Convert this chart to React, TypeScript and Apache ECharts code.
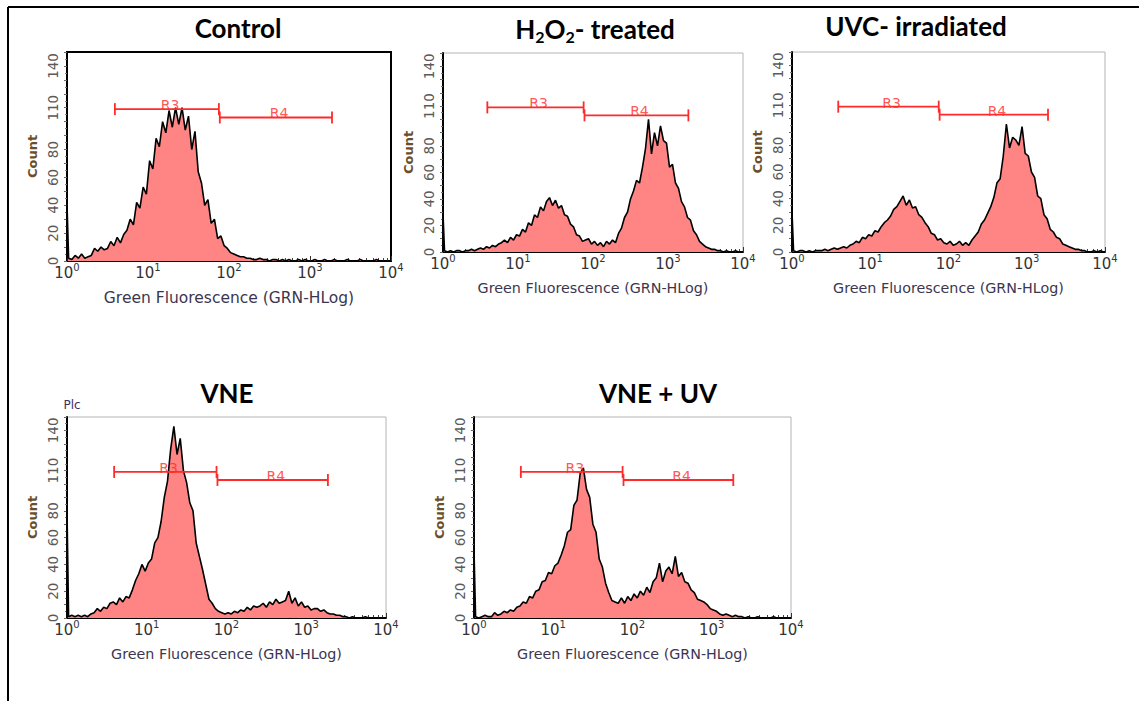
import React, { useEffect, useRef } from "react";
import * as echarts from "echarts";

// ---------- data ----------
// x axis is the log10 channel scale: 0..4 decades (10^0 .. 10^4)
const decadeTicks = [0, 1, 2, 3, 4];
const minorMultipliers = [2, 3, 4, 5, 6, 7, 8, 9];
const yLabelValues = [0, 20, 40, 60, 80, 110, 140];
const binWidth = 0.04; // width of one histogram channel in decades (100 channels)

const panelTitles = ["Control", "H2O2- treated", "UVC- irradiated", "VNE", "VNE + UV"];

// counts piled in the first channel (off-scale low events at 10^0)
const offScaleCounts = [41, 29, 30, 81, 51];

const controlCounts = [
  2, 1, 4, 2, 5, 2, 3, 4,
  9, 7, 10, 8, 9, 14, 11, 17, 13, 19,
  22, 30, 26, 42, 38, 53, 48, 72, 66, 88,
  82, 100, 92, 108, 96, 110, 98, 110, 94, 104,
  80, 93, 64, 56, 40, 44, 27, 30, 16, 18,
  11, 9, 6, 5, 4, 3, 3, 2, 2, 1,
  1, 2, 1, 1, 0, 1, 1, 0, 1, 0,
  1, 0, 0, 1, 0, 1, 0, 0, 1, 0,
  0, 1, 0, 0, 1, 0, 0, 0, 1, 0,
  0, 0, 1, 0, 0, 0, 0, 1, 0, 0, 0, 0,
];

const h2o2Counts = [
  1, 0, 1, 0, 1, 1, 0, 1, 1, 2, 1, 2,
  3, 2, 4, 3, 5, 4, 6, 7, 9, 7,
  11, 9, 13, 12, 17, 15, 22, 20, 28, 26,
  34, 31, 38, 41, 35, 39, 33, 35, 28, 27,
  21, 19, 13, 12, 8, 9, 10, 6, 8, 5,
  7, 4, 8, 6, 9, 7, 14, 18, 26, 30,
  40, 46, 54, 52, 64, 78, 100, 74, 90, 80,
  95, 84, 82, 64, 66, 52, 48, 38, 34, 26,
  24, 16, 13, 8, 6, 4, 3, 2, 2, 1,
  1, 0, 1, 0, 0, 1, 0, 0,
];

const uvcCounts = [
  1, 0, 1, 1, 0, 1, 0, 1, 1, 1, 2, 1,
  2, 3, 2, 3, 4, 3, 5, 6, 8, 7,
  11, 10, 13, 12, 16, 15, 19, 22, 24, 27,
  32, 34, 38, 42, 35, 39, 33, 34, 28, 26,
  22, 19, 14, 13, 9, 10, 7, 6, 8, 5,
  6, 8, 5, 7, 5, 9, 12, 15, 21, 24,
  29, 34, 41, 52, 55, 72, 96, 78, 86, 84,
  80, 94, 74, 72, 60, 56, 42, 40, 28, 25,
  17, 15, 11, 10, 6, 5, 4, 3, 2, 2,
  1, 1, 0, 0, 1, 0, 1, 0,
];

const vneCounts = [
  1, 2, 1, 2, 1, 2, 1, 3,
  4, 7, 5, 8, 7, 11, 12, 10, 15, 12,
  16, 15, 21, 28, 33, 40, 35, 41, 44, 56,
  60, 72, 90, 102, 126, 143, 122, 134, 110, 101,
  86, 80, 56, 46, 36, 25, 14, 11, 7, 5,
  4, 3, 4, 3, 5, 4, 6, 5, 8, 6,
  9, 8, 9, 11, 8, 12, 10, 14, 11, 12,
  13, 20, 11, 15, 9, 12, 8, 9, 6, 7,
  7, 5, 6, 4, 3, 3, 2, 2, 1, 1,
  0, 1, 0, 0, 0, 1, 0, 0, 0, 0, 0, 0,
];

const vneUvCounts = [
  1, 0, 1, 2, 1, 1, 4, 2,
  3, 5, 4, 6, 5, 8, 9, 12, 11, 16,
  15, 20, 21, 27, 28, 34, 33, 39, 41, 47,
  54, 64, 66, 84, 88, 108, 112, 96, 90, 70,
  64, 44, 38, 26, 19, 13, 12, 11, 15, 11,
  16, 13, 18, 15, 20, 17, 23, 19, 27, 30,
  41, 27, 35, 38, 33, 46, 31, 34, 27, 26,
  21, 19, 14, 13, 12, 10, 7, 6, 5, 3,
  2, 3, 2, 1, 2, 1, 1, 0, 1, 0,
  0, 1, 0, 0, 0, 0, 1, 0, 0, 0, 0, 0,
];

const panelCounts = [controlCounts, h2o2Counts, uvcCounts, vneCounts, vneUvCounts];

// gates: [low fluorescence, high fluorescence, count level]
const gateNames = ["R3", "R4"];
const gateR3 = [3.9, 75, 109];
const gateR4 = [77, 1870, 103];
const gates = [gateR3, gateR4];

// ---------- layout / style ----------
const layouts = [
  { left: 67, top: 52, width: 324, height: 209, border: "#000", borderW: 2, nameSize: 15.5, tx: 238, ty: 28 },
  { left: 443, top: 53, width: 300, height: 199, border: "#b4b4b4", borderW: 1, nameSize: 14.3, tx: 595, ty: 29 },
  { left: 792, top: 52, width: 313, height: 200, border: "#b4b4b4", borderW: 1, nameSize: 14.3, tx: 916, ty: 26 },
  { left: 67, top: 417, width: 319, height: 201, border: "#b4b4b4", borderW: 1, nameSize: 14.3, tx: 227, ty: 393 },
  { left: 474, top: 417, width: 317, height: 201, border: "#b4b4b4", borderW: 1, nameSize: 14.3, tx: 658, ty: 393 },
];

const RED = "#ff2a2a";
const AXIS_FONT = "DejaVu Sans";
const TITLE_FONT = "Lato";

function buildOption() {
  const minorTicks: number[] = [];
  for (let d = 0; d < 4; d++) {
    for (const k of minorMultipliers) minorTicks.push(d + Math.log10(k));
  }

  const grid: any[] = [];
  const xAxis: any[] = [];
  const yAxis: any[] = [];
  const series: any[] = [];

  layouts.forEach((l, i) => {
    grid.push({
      left: l.left,
      top: l.top,
      width: l.width,
      height: l.height,
      show: true,
      borderColor: l.border,
      borderWidth: l.borderW,
      backgroundColor: "transparent",
    });
    xAxis.push({
      type: "value",
      gridIndex: i,
      min: decadeTicks[0],
      max: decadeTicks[decadeTicks.length - 1],
      interval: 1,
      position: "bottom",
      axisLine: { show: true, onZero: false, lineStyle: { color: "#000", width: 2 } },
      axisTick: { show: true, inside: true, length: 5, lineStyle: { color: "#333", width: 1 } },
      splitLine: { show: false },
      axisLabel: {
        margin: 1,
        formatter: (v: number) => `{b|10}{s|${v}}`,
        rich: {
          b: { fontFamily: AXIS_FONT, fontSize: 15, color: "#333", lineHeight: 21 },
          s: { fontFamily: AXIS_FONT, fontSize: 10, color: "#333", lineHeight: 8, verticalAlign: "top" },
        },
      },
      name: "Green Fluorescence (GRN-HLog)",
      nameLocation: "middle",
      nameGap: 29,
      nameTextStyle: { fontFamily: AXIS_FONT, fontSize: l.nameSize, color: "#3b3650" },
    });
    xAxis.push({
      type: "value",
      gridIndex: i,
      min: decadeTicks[0],
      max: decadeTicks[decadeTicks.length - 1],
      position: "bottom",
      offset: 0,
      axisLine: { show: false, onZero: false },
      axisLabel: { show: false },
      splitLine: { show: false },
      axisTick: {
        show: true,
        inside: true,
        length: 3,
        customValues: minorTicks,
        lineStyle: { color: "#444", width: 1 },
      },
    });
    yAxis.push({
      type: "value",
      gridIndex: i,
      min: 0,
      max: 150,
      interval: 10,
      axisLine: { show: true, lineStyle: { color: "#000", width: 2 } },
      axisTick: { show: true, inside: false, length: 3, lineStyle: { color: "#666" } },
      minorTick: { show: true, splitNumber: 2, length: 2, lineStyle: { color: "#777" } },
      splitLine: { show: false },
      axisLabel: {
        rotate: 90,
        margin: 7,
        fontFamily: AXIS_FONT,
        fontSize: 13.5,
        color: "#5a5a5a",
        formatter: (v: number) => (yLabelValues.includes(v) ? String(v) : ""),
      },
      name: "Count",
      nameLocation: "middle",
      nameRotate: 90,
      nameGap: 28,
      nameTextStyle: { fontFamily: AXIS_FONT, fontSize: 13, fontWeight: "bold", color: "#6b4f2a" },
    });

    const counts = panelCounts[i];
    const data: number[][] = [[0, 0], [0, offScaleCounts[i]]];
    counts.forEach((c, k) => data.push([binWidth / 2 + k * binWidth, c]));
    series.push({
      type: "line",
      xAxisIndex: i * 2,
      yAxisIndex: i,
      data,
      symbol: "none",
      showSymbol: false,
      lineStyle: { color: "#000", width: 1.6 },
      areaStyle: { color: "#ff8585", opacity: 1 },
      z: 2,
      silent: true,
    });

    gates.forEach((g, gi) => {
      const lo = Math.log10(g[0]);
      const hi = Math.log10(g[1]);
      series.push({
        type: "line",
        xAxisIndex: i * 2,
        yAxisIndex: i,
        data: [[lo, g[2]], [hi, g[2]]],
        symbol: "rect",
        symbolSize: [1.8, 12],
        showSymbol: true,
        lineStyle: { color: RED, width: 1.8 },
        itemStyle: { color: RED },
        z: 5,
        silent: true,
      });
      series.push({
        type: "scatter",
        xAxisIndex: i * 2,
        yAxisIndex: i,
        data: [[(lo + hi) / 2 + 0.04, g[2]]],
        symbolSize: 1,
        itemStyle: { color: "transparent" },
        label: {
          show: true,
          formatter: gateNames[gi],
          position: "inside",
          offset: [0, -4],
          color: RED,
          fontFamily: AXIS_FONT,
          fontSize: 14,
        },
        z: 6,
        silent: true,
      });
    });
  });

  const titleFont = `bold 26px ${TITLE_FONT}`;
  const graphic: any[] = [
    { type: "line", shape: { x1: 8, y1: 7, x2: 1139, y2: 7 }, style: { stroke: "#000", lineWidth: 2 } },
    { type: "line", shape: { x1: 8, y1: 7, x2: 8, y2: 701 }, style: { stroke: "#000", lineWidth: 2 } },
    {
      type: "text",
      x: 72,
      y: 405,
      style: {
        text: "Plc",
        font: `12px ${AXIS_FONT}`,
        fill: "#3a3060",
        align: "center",
        verticalAlign: "middle",
        textAlign: "center",
        textVerticalAlign: "middle",
      },
    },
  ];
  layouts.forEach((l, i) => {
    const isH2O2 = i === 1;
    graphic.push({
      type: "text",
      x: l.tx,
      y: l.ty,
      style: isH2O2
        ? {
            text: "{m|H}{s|2}{m|O}{s|2}{m|- treated}",
            align: "center",
            verticalAlign: "middle",
            textAlign: "center",
            textVerticalAlign: "middle",
            rich: {
              m: { font: titleFont, fill: "#000", lineHeight: 30 },
              s: { font: `bold 16px ${TITLE_FONT}`, fill: "#000", lineHeight: 14, verticalAlign: "bottom" },
            },
          }
        : {
            text: panelTitles[i],
            font: titleFont,
            fill: "#000",
            align: "center",
            verticalAlign: "middle",
            textAlign: "center",
            textVerticalAlign: "middle",
          },
    });
  });

  return {
    animation: false,
    backgroundColor: "#fff",
    grid,
    xAxis,
    yAxis,
    series,
    graphic,
  };
}

export default function App() {
  const ref = useRef<HTMLDivElement>(null);
  useEffect(() => {
    if (!ref.current) return;
    const chart = echarts.init(ref.current, undefined, { renderer: "svg" });
    chart.setOption(buildOption() as any);
    return () => chart.dispose();
  }, []);
  return (
    <div
      ref={ref}
      style={{ position: "absolute", left: 0, top: 0, width: 1139, height: 701, background: "#fff" }}
    />
  );
}
